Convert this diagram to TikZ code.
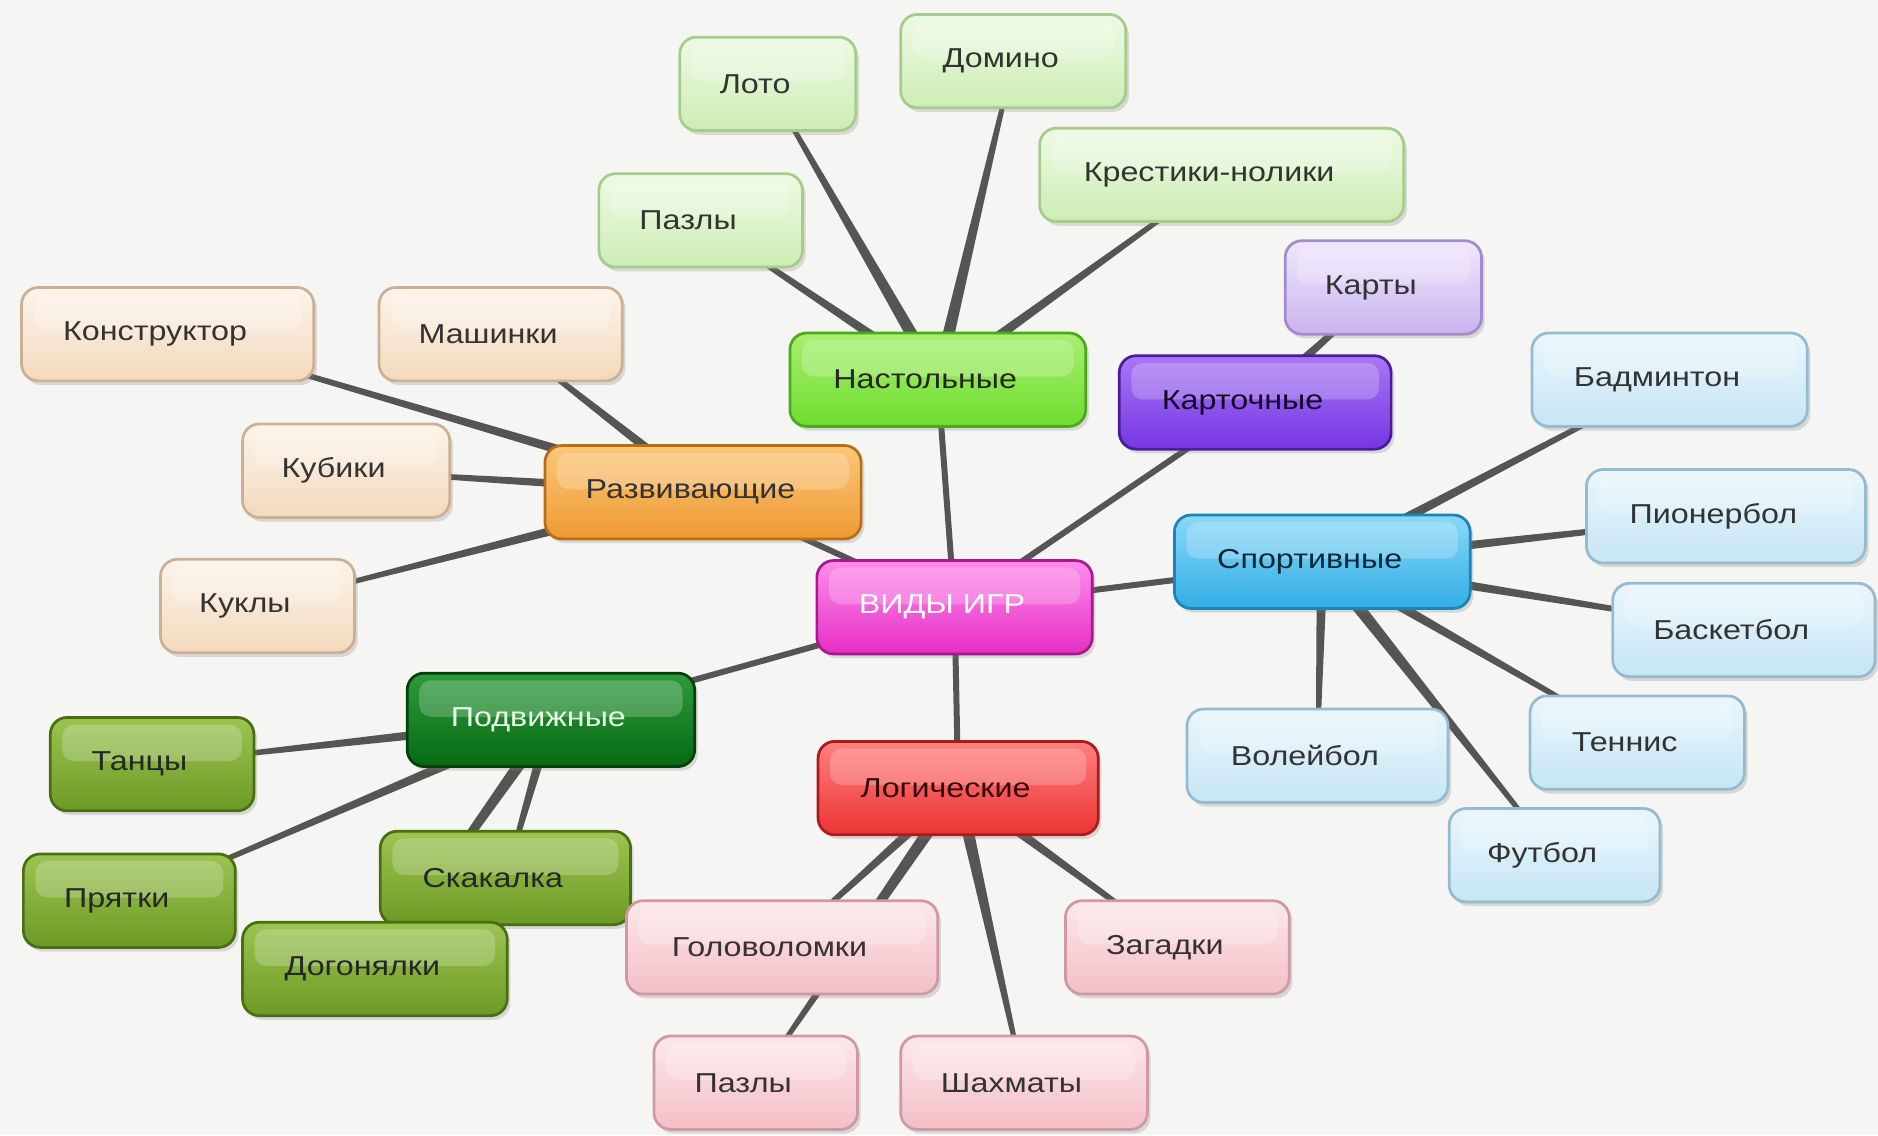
\documentclass[tikz,border=0pt]{standalone}
\usepackage{fontspec}
\newfontfamily\boxfont{Liberation Sans}[FakeStretch=1.18]
\usetikzlibrary{calc,shadows}
\pgfdeclarelayer{background}
\pgfsetlayers{background,main}

\definecolor{paper}{HTML}{F5F5F4}
\definecolor{wire}{HTML}{555555}
\definecolor{ink}{HTML}{333333}
\definecolor{rootT}{HTML}{FF8CEB}\definecolor{rootB}{HTML}{E52FC6}\definecolor{rootD}{HTML}{A8188F}
\definecolor{boardT}{HTML}{A8F070}\definecolor{boardB}{HTML}{6EDC2E}\definecolor{boardD}{HTML}{4CA81C}
\definecolor{cardT}{HTML}{A678F5}\definecolor{cardB}{HTML}{7636E2}\definecolor{cardD}{HTML}{4A1C9C}
\definecolor{devT}{HTML}{FBC77A}\definecolor{devB}{HTML}{EE9A32}\definecolor{devD}{HTML}{B86E16}
\definecolor{sportT}{HTML}{8AD8F8}\definecolor{sportB}{HTML}{32AEE6}\definecolor{sportD}{HTML}{1C84B8}
\definecolor{moveT}{HTML}{2E9A3C}\definecolor{moveB}{HTML}{066A12}\definecolor{moveD}{HTML}{03400A}
\definecolor{logicT}{HTML}{FF8080}\definecolor{logicB}{HTML}{EC3434}\definecolor{logicD}{HTML}{A81C1C}
\definecolor{lgreenT}{HTML}{EEFAE4}\definecolor{lgreenB}{HTML}{CDEDB4}\definecolor{lgreenD}{HTML}{A6CC8C}
\definecolor{lviolT}{HTML}{F0E8FC}\definecolor{lviolB}{HTML}{C9B3EF}\definecolor{lviolD}{HTML}{A48CCC}
\definecolor{lpeachT}{HTML}{FDF4EA}\definecolor{lpeachB}{HTML}{F2D9BD}\definecolor{lpeachD}{HTML}{CDB093}
\definecolor{lblueT}{HTML}{EAF7FD}\definecolor{lblueB}{HTML}{C6E5F3}\definecolor{lblueD}{HTML}{94BBD0}
\definecolor{oliveT}{HTML}{9CC452}\definecolor{oliveB}{HTML}{6C9A24}\definecolor{oliveD}{HTML}{4A6E14}
\definecolor{lpinkT}{HTML}{FDE8EA}\definecolor{lpinkB}{HTML}{F2BFC6}\definecolor{lpinkD}{HTML}{CF98A2}

\tikzstyle{box} = [rectangle,rounded corners=.28cm,line width=1.3pt,minimum height=1.56cm,inner sep=0pt,
  font=\boxfont\fontsize{13}{15}\selectfont,text=ink,execute at end node={\hspace{.42cm}},
  drop shadow={shadow xshift=1.5pt,shadow yshift=-2pt,opacity=.25},
  path picture={\fill[white,opacity=.22,rounded corners=.2cm]
    ([xshift=.2cm,yshift=-.12cm]path picture bounding box.north west) rectangle
    ([xshift=-.2cm,yshift=.05cm]path picture bounding box.east);}]
\tikzstyle{root} = [box,top color=rootT,bottom color=rootB,draw=rootD,text=white]
\tikzstyle{board} = [box,top color=boardT,bottom color=boardB,draw=boardD,text=black!85]
\tikzstyle{card} = [box,top color=cardT,bottom color=cardB,draw=cardD,text=black!75!cardD]
\tikzstyle{dev} = [box,top color=devT,bottom color=devB,draw=devD,text=black!80]
\tikzstyle{sport} = [box,top color=sportT,bottom color=sportB,draw=sportD,text=black!70!sportD]
\tikzstyle{move} = [box,top color=moveT,bottom color=moveB,draw=moveD,text=green!8]
\tikzstyle{logic} = [box,top color=logicT,bottom color=logicB,draw=logicD,text=black!70!logicD]
\tikzstyle{lgreen} = [box,top color=lgreenT,bottom color=lgreenB,draw=lgreenD]
\tikzstyle{lviol} = [box,top color=lviolT,bottom color=lviolB,draw=lviolD]
\tikzstyle{lpeach} = [box,top color=lpeachT,bottom color=lpeachB,draw=lpeachD]
\tikzstyle{lblue} = [box,top color=lblueT,bottom color=lblueB,draw=lblueD]
\tikzstyle{olive} = [box,top color=oliveT,bottom color=oliveB,draw=oliveD,text=black!85]
\tikzstyle{lpink} = [box,top color=lpinkT,bottom color=lpinkB,draw=lpinkD]

% tapered connector: from, to, half width at from, half width at to
\newcommand{\twig}[4]{\fill[wire] ($(#1.center)!#3!90:(#2.center)$) -- ($(#1.center)!#3!-90:(#2.center)$)
  -- ($(#2.center)!#4!90:(#1.center)$) -- ($(#2.center)!#4!-90:(#1.center)$) -- cycle;}
\def\wa{.9mm}
\def\wb{.3mm}
\def\wc{.5mm}

\begin{document}
\begin{tikzpicture}[x=0.02cm,y=-0.02cm]
  \begin{pgfonlayer}{background}
    \fill[paper] (0,0) rectangle (1568,948);
  \end{pgfonlayer}
  \useasboundingbox (0,0) rectangle (1568,948);

  % groups
  \node[root,minimum width=4.6cm] (root) at (797,507) {ВИДЫ ИГР};
  \node[board,minimum width=4.94cm] (board) at (783,317) {Настольные};
  \node[card,minimum width=4.54cm] (card) at (1048,336) {Карточные};
  \node[dev,minimum width=5.28cm] (dev) at (587,411) {Развивающие};
  \node[sport,minimum width=4.94cm] (sport) at (1104,469) {Спортивные};
  \node[move,minimum width=4.8cm] (move) at (460,601) {Подвижные};
  \node[logic,minimum width=4.68cm] (logic) at (800,658) {Логические};

  % board games
  \node[lgreen,minimum width=2.94cm] (loto) at (641,70) {Лото};
  \node[lgreen,minimum width=3.76cm] (domino) at (846,51) {Домино};
  \node[lgreen,minimum width=3.4cm] (puzzle) at (585,184) {Пазлы};
  \node[lgreen,minimum width=6.08cm] (ttt) at (1020,146) {Крестики-нолики};
  \node[lviol,minimum width=3.28cm] (cards) at (1155,240) {Карты};

  % developing
  \node[lpeach,minimum width=4.88cm] (constr) at (140,279) {Конструктор};
  \node[lpeach,minimum width=4.06cm] (cars) at (418,279) {Машинки};
  \node[lpeach,minimum width=3.46cm] (cubes) at (289,393) {Кубики};
  \node[lpeach,minimum width=3.24cm] (dolls) at (215,506) {Куклы};

  % sports
  \node[lblue,minimum width=4.6cm] (badm) at (1394,317) {Бадминтон};
  \node[lblue,minimum width=4.66cm] (pion) at (1441,431) {Пионербол};
  \node[lblue,minimum width=4.38cm] (bask) at (1456,526) {Баскетбол};
  \node[lblue,minimum width=3.58cm] (tenn) at (1367,620) {Теннис};
  \node[lblue,minimum width=4.36cm] (volley) at (1100,631) {Волейбол};
  \node[lblue,minimum width=3.52cm] (foot) at (1298,714) {Футбол};

  % active
  \node[olive,minimum width=3.4cm] (dance) at (127,638) {Танцы};
  \node[olive,minimum width=3.54cm] (hide) at (108,752) {Прятки};
  \node[olive,minimum width=4.18cm] (rope) at (422,733) {Скакалка};
  \node[olive,minimum width=4.42cm] (tag) at (313,809) {Догонялки};

  % logic
  \node[lpink,minimum width=5.2cm] (brain) at (653,791) {Головоломки};
  \node[lpink,minimum width=3.74cm] (riddle) at (983,791) {Загадки};
  \node[lpink,minimum width=3.4cm] (puzzleb) at (631,904) {Пазлы};
  \node[lpink,minimum width=4.12cm] (chess) at (855,904) {Шахматы};

  \begin{pgfonlayer}{background}
    \twig{root}{board}{\wc}{\wc}
    \twig{root}{card}{\wc}{\wc}
    \twig{root}{dev}{\wc}{\wc}
    \twig{root}{sport}{\wc}{\wc}
    \twig{root}{move}{\wc}{\wc}
    \twig{root}{logic}{\wc}{\wc}
    \twig{board}{loto}{1.1mm}{\wb}
    \twig{board}{domino}{1.1mm}{\wb}
    \twig{board}{puzzle}{\wa}{\wb}
    \twig{board}{ttt}{\wa}{\wb}
    \twig{card}{cards}{\wa}{\wb}
    \twig{dev}{constr}{\wa}{\wb}
    \twig{dev}{cars}{\wa}{\wb}
    \twig{dev}{cubes}{\wa}{\wb}
    \twig{dev}{dolls}{\wa}{\wb}
    \twig{sport}{badm}{\wa}{\wb}
    \twig{sport}{pion}{\wa}{\wb}
    \twig{sport}{bask}{\wa}{\wb}
    \twig{sport}{tenn}{\wa}{\wb}
    \twig{sport}{volley}{\wa}{\wb}
    \twig{sport}{foot}{1.1mm}{\wb}
    \twig{move}{dance}{\wa}{\wb}
    \twig{move}{hide}{\wa}{\wb}
    \twig{move}{rope}{\wa}{\wb}
    \twig{move}{tag}{1.1mm}{\wb}
    \twig{logic}{brain}{\wa}{\wb}
    \twig{logic}{riddle}{\wa}{\wb}
    \twig{logic}{puzzleb}{1.1mm}{\wb}
    \twig{logic}{chess}{1.1mm}{\wb}
  \end{pgfonlayer}
\end{tikzpicture}
\end{document}
